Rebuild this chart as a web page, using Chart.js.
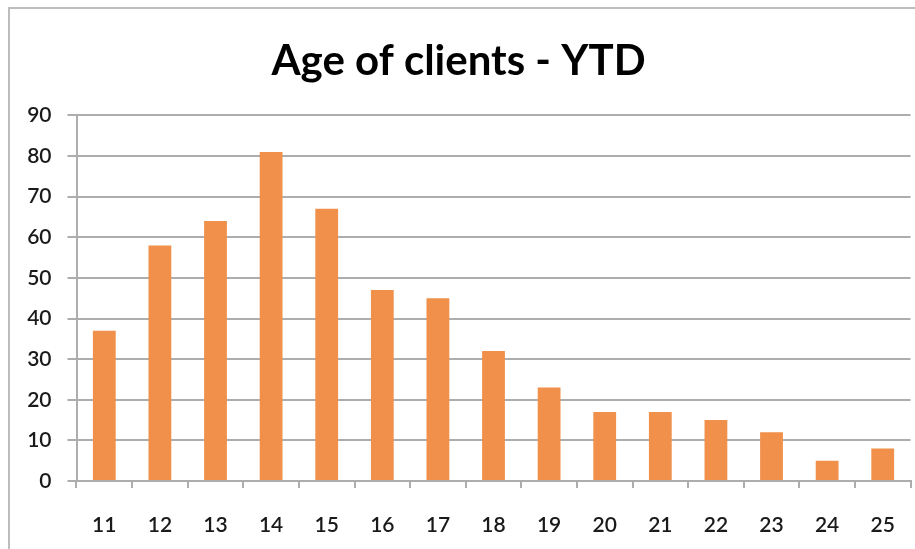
<!DOCTYPE html>
<html lang="en">
<head>
    <meta charset="UTF-8">
    <title>Age of clients - YTD</title>
    <script src="https://cdn.jsdelivr.net/npm/chart.js"></script>
    <style>
        html, body {
            margin: 0;
            padding: 0;
            width: 915px;
            height: 549px;
            overflow: hidden;
            background: #ffffff;
        }
        .frame {
            position: absolute;
            left: 8px;
            top: 7px;
            width: 1000px;
            height: 600px;
            border-left: 2px solid #bdbdbd;
            border-top: 2px solid #bdbdbd;
        }
        #chart-box {
            position: absolute;
            left: 0;
            top: 0;
            width: 920px;
            height: 549px;
        }
    </style>
</head>
<body>
    <div class="frame"></div>
    <div id="chart-box">
        <canvas id="ageChart"></canvas>
    </div>

    <script>
        const ages = ['11', '12', '13', '14', '15', '16', '17', '18', '19', '20', '21', '22', '23', '24', '25'];
        const clientCounts = [37, 58, 64, 81, 67, 47, 45, 32, 23, 17, 17, 15, 12, 5, 8];
        const yTicks = [0, 10, 20, 30, 40, 50, 60, 70, 80, 90];

        const gridColor = '#adadad';
        const tickFont = { family: 'Lato', size: 21, weight: '600' };

        new Chart(document.getElementById('ageChart'), {
            type: 'bar',
            data: {
                labels: ages,
                datasets: [{
                    label: 'Clients',
                    data: clientCounts,
                    backgroundColor: '#F0904A',
                    borderWidth: 0,
                    barPercentage: 0.41,
                    categoryPercentage: 1
                }]
            },
            options: {
                responsive: true,
                maintainAspectRatio: false,
                animation: false,
                layout: { padding: { left: 0, right: 3, top: 0, bottom: 0 } },
                plugins: {
                    legend: { display: false },
                    tooltip: { enabled: false },
                    title: {
                        display: true,
                        text: 'Age of clients - YTD',
                        color: '#000',
                        font: { family: 'Lato', size: 42, weight: 'bold', lineHeight: 1.2 },
                        padding: { top: 36, bottom: 29 }
                    }
                },
                scales: {
                    x: {
                        grid: {
                            display: true,
                            drawOnChartArea: false,
                            drawTicks: true,
                            tickLength: 7,
                            color: gridColor,
                            lineWidth: 2
                        },
                        border: { display: true, color: gridColor, width: 2 },
                        ticks: { color: '#1a1a1a', font: tickFont, padding: 25, maxRotation: 0 },
                        afterFit: scale => { scale.height = 68; }
                    },
                    y: {
                        min: 0,
                        max: 90,
                        afterBuildTicks: scale => {
                            scale.ticks = yTicks.map(v => ({ value: v }));
                        },
                        grid: {
                            color: gridColor,
                            lineWidth: 2,
                            drawTicks: true,
                            tickLength: 9
                        },
                        border: { display: true, color: gridColor, width: 2 },
                        ticks: { color: '#1a1a1a', font: tickFont, padding: 16 },
                        afterFit: scale => { scale.width = 76.5; }
                    }
                }
            }
        });
    </script>
</body>
</html>
